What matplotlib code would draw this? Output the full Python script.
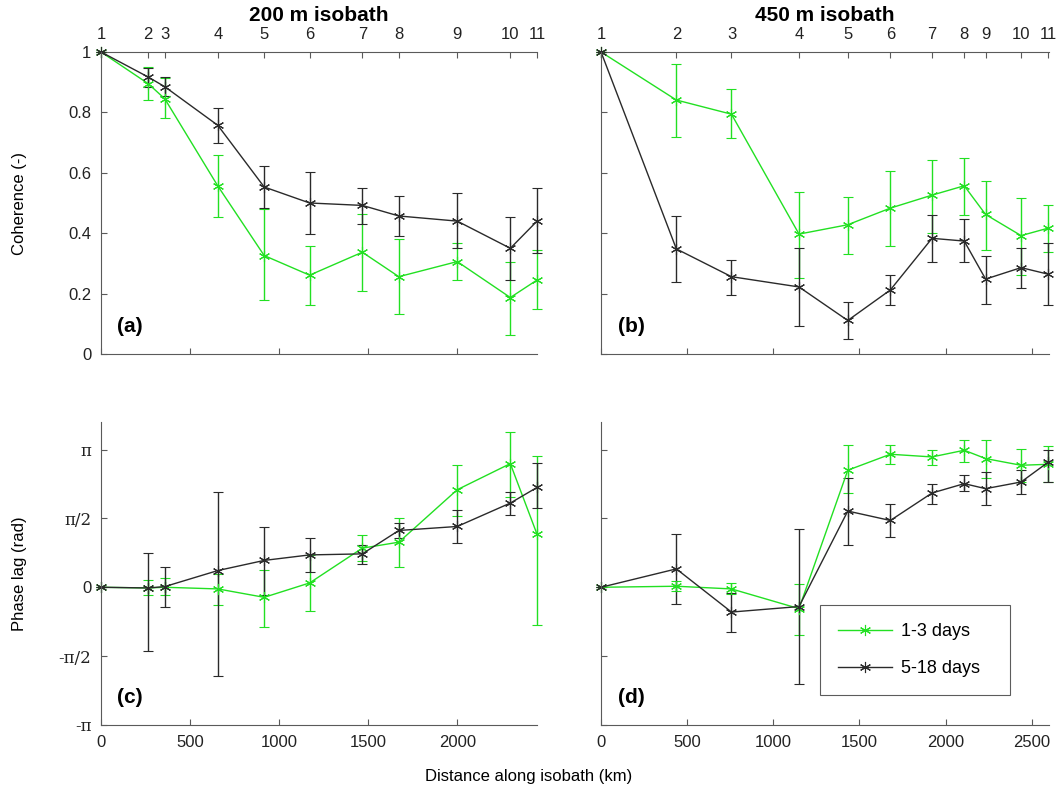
import numpy as np
import matplotlib
matplotlib.use("Agg")
import matplotlib.pyplot as plt

plt.rcParams['font.family'] = ['Liberation Sans', 'DejaVu Sans']

# station distances along isobath (km)
dist200 = [0, 265, 358, 656, 916, 1171, 1467, 1672, 2000, 2298, 2448]
dist450 = [0, 437, 757, 1149, 1432, 1679, 1921, 2108, 2232, 2438, 2597]
stations = [str(i) for i in range(1, 12)]

# coherence, 200 m isobath
coh200_hf = [1.0, 0.895, 0.845, 0.556, 0.326, 0.261, 0.337, 0.256, 0.306, 0.187, 0.245]
coh200_hf_lo = [1.0, 0.84, 0.78, 0.453, 0.178, 0.163, 0.21, 0.131, 0.246, 0.064, 0.148]
coh200_hf_hi = [1.0, 0.95, 0.915, 0.658, 0.48, 0.356, 0.464, 0.381, 0.368, 0.306, 0.345]
coh200_lf = [1.0, 0.917, 0.885, 0.757, 0.553, 0.50, 0.492, 0.457, 0.44, 0.35, 0.44]
coh200_lf_lo = [1.0, 0.885, 0.854, 0.70, 0.483, 0.396, 0.431, 0.39, 0.35, 0.246, 0.335]
coh200_lf_hi = [1.0, 0.948, 0.918, 0.815, 0.621, 0.603, 0.551, 0.523, 0.533, 0.452, 0.55]

# coherence, 450 m isobath
coh450_hf = [1.0, 0.841, 0.794, 0.397, 0.428, 0.483, 0.526, 0.557, 0.462, 0.392, 0.417]
coh450_hf_lo = [1.0, 0.72, 0.714, 0.252, 0.33, 0.356, 0.401, 0.459, 0.346, 0.262, 0.337]
coh450_hf_hi = [1.0, 0.961, 0.876, 0.537, 0.52, 0.606, 0.644, 0.649, 0.574, 0.516, 0.492]
coh450_lf = [1.0, 0.348, 0.256, 0.222, 0.111, 0.212, 0.383, 0.374, 0.248, 0.286, 0.264]
coh450_lf_lo = [1.0, 0.24, 0.197, 0.094, 0.05, 0.161, 0.306, 0.303, 0.167, 0.22, 0.161]
coh450_lf_hi = [1.0, 0.456, 0.311, 0.35, 0.171, 0.261, 0.459, 0.446, 0.326, 0.352, 0.368]

# phase lag in units of pi/2, 200 m isobath
ph200_hf = [0, -0.01, 0, -0.024, -0.146, 0.063, 0.568, 0.655, 1.417, 1.796, 0.77]
ph200_hf_lo = [0, -0.107, -0.117, -0.257, -0.57, -0.34, 0.38, 0.30, 1.03, 1.31, -0.55]
ph200_hf_hi = [0, 0.11, 0.136, 0.2, 0.252, 0.47, 0.757, 1.005, 1.78, 2.25, 1.9]
ph200_lf = [0, -0.01, 0.01, 0.243, 0.39, 0.47, 0.485, 0.825, 0.883, 1.223, 1.45]
ph200_lf_lo = [0, -0.93, -0.28, -1.29, -0.107, 0.228, 0.34, 0.714, 0.65, 1.049, 1.15]
ph200_lf_hi = [0, 0.5, 0.29, 1.38, 0.87, 0.714, 0.62, 0.93, 1.117, 1.383, 1.8]

# phase lag in units of pi/2, 450 m isobath
ph450_hf = [0, 0.015, -0.024, -0.31, 1.70, 1.932, 1.893, 1.99, 1.869, 1.772, 1.786]
ph450_hf_lo = [0, -0.05, -0.097, -0.70, 1.37, 1.786, 1.78, 1.82, 1.587, 1.529, 1.529]
ph450_hf_hi = [0, 0.087, 0.063, 0.05, 2.06, 2.07, 2.0, 2.136, 2.136, 2.015, 2.05]
ph450_lf = [0, 0.267, -0.36, -0.28, 1.107, 0.97, 1.369, 1.505, 1.432, 1.529, 1.82]
ph450_lf_lo = [0, -0.248, -0.65, -1.40, 0.621, 0.728, 1.214, 1.398, 1.19, 1.36, 1.53]
ph450_lf_hi = [0, 0.777, -0.087, 0.85, 1.587, 1.214, 1.505, 1.626, 1.675, 1.70, 2.0]

GREEN = '#22e022'
BLACK = '#2a2a2a'
AXC = '#5a5a5a'
star = (6, 2, 0)


def plot_series(ax, x, y, lo, hi, color, scale=1.0):
    y = np.array(y) * scale
    lo = np.array(lo) * scale
    hi = np.array(hi) * scale
    err = [y - lo, hi - y]
    eb = ax.errorbar(x, y, yerr=err, color=color, ecolor=color, lw=1.0,
                     elinewidth=1.0, capsize=3.5, capthick=1.0,
                     marker=star, ms=8, mew=0.8)
    for art in eb.lines[1] + eb.lines[2] + (eb.lines[0],):
        art.set_clip_on(False)
    return eb


def style(ax, dist, xmax, xticks, top):
    ax.set_xlim(0, xmax)
    ax.set_xticks(xticks)
    ax.spines['right'].set_visible(False)
    ax.spines['top'].set_visible(False)
    for s in ['left', 'bottom']:
        ax.spines[s].set_color(AXC)
    ax.tick_params(direction='in', length=4, color=AXC, labelsize=12,
                   labelcolor='#222222', pad=7)
    if top:
        sec = ax.secondary_xaxis('top')
        sec.set_xticks(dist, labels=stations)
        sec.spines['top'].set_color(AXC)
        sec.tick_params(direction='in', length=4, color=AXC, labelsize=12,
                        labelcolor='#222222', pad=7)


fig = plt.figure(figsize=(10.58, 7.90), dpi=100)
ax_a = fig.add_axes([0.0955, 0.5519, 0.4121, 0.3823])
ax_b = fig.add_axes([0.5681, 0.5519, 0.4234, 0.3823])
ax_c = fig.add_axes([0.0955, 0.0823, 0.4121, 0.3835])
ax_d = fig.add_axes([0.5681, 0.0823, 0.4234, 0.3835])

xt200 = [0, 500, 1000, 1500, 2000]
xt450 = [0, 500, 1000, 1500, 2000, 2500]

plot_series(ax_a, dist200, coh200_hf, coh200_hf_lo, coh200_hf_hi, GREEN)
plot_series(ax_a, dist200, coh200_lf, coh200_lf_lo, coh200_lf_hi, BLACK)
plot_series(ax_b, dist450, coh450_hf, coh450_hf_lo, coh450_hf_hi, GREEN)
plot_series(ax_b, dist450, coh450_lf, coh450_lf_lo, coh450_lf_hi, BLACK)

hp = np.pi / 2
plot_series(ax_c, dist200, ph200_hf, ph200_hf_lo, ph200_hf_hi, GREEN, hp)
plot_series(ax_c, dist200, ph200_lf, ph200_lf_lo, ph200_lf_hi, BLACK, hp)
eb_hf = plot_series(ax_d, dist450, ph450_hf, ph450_hf_lo, ph450_hf_hi, GREEN, hp)
eb_lf = plot_series(ax_d, dist450, ph450_lf, ph450_lf_lo, ph450_lf_hi, BLACK, hp)

style(ax_a, dist200, dist200[-1], xt200, True)
style(ax_b, dist450, 2600, xt450, True)
style(ax_c, dist200, dist200[-1], xt200, False)
style(ax_d, dist450, 2600, xt450, False)

coh_ticks = [0, 0.2, 0.4, 0.6, 0.8, 1.0]
coh_labels = ['0', '0.2', '0.4', '0.6', '0.8', '1']
for ax in (ax_a, ax_b):
    ax.set_ylim(0, 1)
    ax.set_yticks(coh_ticks)
    ax.set_xticklabels([])
ax_a.set_yticklabels(coh_labels)
ax_b.set_yticklabels([])

ph_ticks = [-np.pi, -np.pi / 2, 0, np.pi / 2, np.pi]
ph_labels = ['-\u03c0', '-\u03c0/2', '0', '\u03c0/2', '\u03c0']
for ax in (ax_c, ax_d):
    ax.set_ylim(-np.pi, 1.2 * np.pi)
    ax.set_yticks(ph_ticks)
ax_c.set_yticklabels(ph_labels)
for t in ax_c.get_yticklabels():
    if t.get_text() != '0':
        t.set_fontfamily(['DejaVu Serif'])
        t.set_fontsize(12)
ax_d.set_yticklabels([])

for ax, lab in zip((ax_a, ax_b, ax_c, ax_d), ['(a)', '(b)', '(c)', '(d)']):
    ax.text(0.037, 0.09, lab, transform=ax.transAxes, fontsize=15,
            fontweight='bold', ha='left', va='center')

leg = ax_d.legend(handles=[eb_hf[0], eb_lf[0]], labels=['1-3 days', '5-18 days'],
                  loc='lower left', bbox_to_anchor=(0.489, 0.099, 0.424, 0.297),
                  mode='expand', borderaxespad=0, fontsize=13, frameon=True,
                  fancybox=False, handlelength=3.0, labelspacing=1.1,
                  borderpad=1.0, handletextpad=0.5)
leg.get_frame().set_edgecolor('#333333')
leg.get_frame().set_linewidth(0.8)

fig.text(0.3015, 0.981, '200 m isobath', ha='center', va='center',
         fontsize=15, fontweight='bold')
fig.text(0.78, 0.981, '450 m isobath', ha='center', va='center',
         fontsize=15, fontweight='bold')
fig.text(0.018, 0.743, 'Coherence (-)', rotation=90, ha='center', va='center',
         fontsize=12)
fig.text(0.018, 0.274, 'Phase lag (rad)', rotation=90, ha='center', va='center',
         fontsize=12)
fig.text(0.5, 0.0165, 'Distance along isobath (km)', ha='center', va='center',
         fontsize=12)

fig.savefig('out.png', dpi=100)
